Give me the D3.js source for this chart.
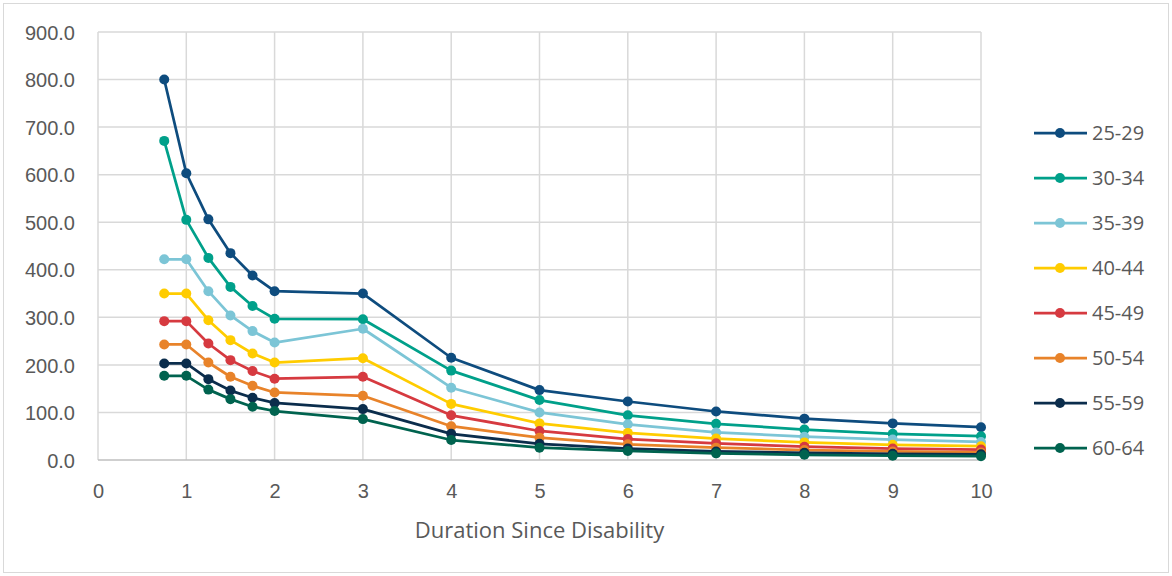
<!DOCTYPE html>
<html><head><meta charset="utf-8">
<script src="https://cdn.jsdelivr.net/npm/d3@7"></script>
<style>body{margin:0;background:#fff;}svg{display:block;font-family:"Open Sans","Noto Sans",sans-serif;}</style>
</head><body><svg id="c" width="1172" height="576"></svg>
<script>
const durations = [0.75, 1, 1.25, 1.5, 1.75, 2, 3, 4, 5, 6, 7, 8, 9, 10];
const seriesNames = ["25-29","30-34","35-39","40-44","45-49","50-54","55-59","60-64"];
const s25_29 = [800, 603, 506, 435, 388, 355, 350, 215, 147, 123, 102, 87, 77, 69];
const s30_34 = [671, 505, 425, 364, 324, 297, 296, 188, 126, 94, 76, 64, 55, 50];
const s35_39 = [422, 422, 355, 304, 271, 247, 276, 152, 100, 75, 58, 49, 43, 38];
const s40_44 = [350, 350, 294, 252, 224, 205, 214, 118, 77, 57, 45, 37, 32, 29];
const s45_49 = [292, 292, 245, 210, 187, 171, 175, 94, 61, 44, 35, 28, 24, 22];
const s50_54 = [243, 243, 205, 175, 156, 142, 135, 71, 47, 33, 26, 21, 18, 16];
const s55_59 = [203, 203, 170, 146, 131, 120, 107, 55, 34, 24, 18, 15, 13, 12];
const s60_64 = [177, 177, 148, 128, 112, 103, 86, 42, 26, 19, 14, 11, 9, 8];
const seriesValues = [s25_29, s30_34, s35_39, s40_44, s45_49, s50_54, s55_59, s60_64];
const colors = ["#0E4C7E","#00A08A","#7CC5D6","#FFCC00","#D63A40","#E8832A","#0B2D4C","#00634F"];
const xTicks = [0,1,2,3,4,5,6,7,8,9,10];
const yTicks = [0,100,200,300,400,500,600,700,800,900];
const xTitle = "Duration Since Disability";

const svg = d3.select("#c");
svg.append("rect").attr("x",3.5).attr("y",3.5).attr("width",1165).attr("height",569)
  .attr("fill","#fff").attr("stroke","#d9d9d9");

const L=98, R=981, T=32, B=460;
const x = d3.scaleLinear().domain([0,10]).range([L,R]);
const y = d3.scaleLinear().domain([0,900]).range([B,T]);

// grid
const g = svg.append("g");
g.selectAll("line.h").data(yTicks.filter(d=>d>0)).join("line")
  .attr("x1",L).attr("x2",R).attr("y1",d=>y(d)).attr("y2",d=>y(d))
  .attr("stroke","#d9d9d9").attr("stroke-width",1.5);
g.selectAll("line.v").data(xTicks).join("line")
  .attr("y1",T).attr("y2",B).attr("x1",d=>x(d)).attr("x2",d=>x(d))
  .attr("stroke","#d9d9d9").attr("stroke-width",1.5);
g.append("line").attr("x1",L).attr("x2",R).attr("y1",B).attr("y2",B)
  .attr("stroke","#bfbfbf").attr("stroke-width",1.5);

// axes
const yAxis = d3.axisLeft(y).tickValues(yTicks).tickFormat(d3.format(".1f")).tickSize(0).tickPadding(23);
const ya = svg.append("g").attr("transform",`translate(${L},0)`).call(yAxis);
ya.select(".domain").remove();
ya.selectAll("text").attr("fill","#595959").attr("font-size",20).attr("dy","0.36em");

const xAxis = d3.axisBottom(x).tickValues(xTicks).tickSize(0).tickPadding(24);
const xa = svg.append("g").attr("transform",`translate(0,${B})`).call(xAxis);
xa.select(".domain").remove();
xa.selectAll("text").attr("fill","#595959").attr("font-size",20);

svg.append("text").attr("x",(L+R)/2).attr("y",538).attr("text-anchor","middle")
  .attr("fill","#595959").attr("font-size",22).text(xTitle);

// series
const line = d3.line().x((d,i)=>x(durations[i])).y(d=>y(d));
seriesValues.forEach((vals,si)=>{
  const sg = svg.append("g");
  sg.append("path").attr("d",line(vals)).attr("fill","none")
    .attr("stroke",colors[si]).attr("stroke-width",2.75).attr("stroke-linejoin","round");
  sg.selectAll("circle").data(vals).join("circle")
    .attr("cx",(d,i)=>x(durations[i])).attr("cy",d=>y(d)).attr("r",5)
    .attr("fill",colors[si]);
});

// legend
const lg = svg.append("g");
seriesNames.forEach((n,i)=>{
  const yy = 133 + i*45;
  lg.append("line").attr("x1",1034).attr("x2",1087).attr("y1",yy).attr("y2",yy)
    .attr("stroke",colors[i]).attr("stroke-width",2.75);
  lg.append("circle").attr("cx",1060).attr("cy",yy).attr("r",5).attr("fill",colors[i]);
  lg.append("text").attr("x",1092).attr("y",yy).attr("dy","0.36em")
    .attr("fill","#595959").attr("font-size",20).text(n);
});
</script></body></html>
